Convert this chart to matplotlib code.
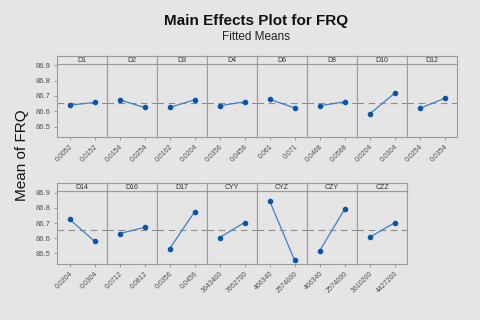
import matplotlib
matplotlib.use("Agg")
import matplotlib.pyplot as plt

# factor names, level labels and fitted means
top_factors = ["D1", "D2", "D3", "D4", "D6", "D8", "D10", "D12"]
top_levels = [["0.0052", "0.0152"], ["0.0154", "0.0254"], ["0.0102", "0.0204"],
              ["0.0356", "0.0456"], ["0.061", "0.071"], ["0.0468", "0.0568"],
              ["0.0204", "0.0304"], ["0.0254", "0.0354"]]
top_means = [[86.640, 86.658], [86.675, 86.625], [86.625, 86.675], [86.636, 86.662],
             [86.678, 86.623], [86.636, 86.662], [86.582, 86.717], [86.619, 86.684]]

bottom_factors = ["D14", "D16", "D17", "CYY", "CYZ", "CZY", "CZZ"]
bottom_levels = [["0.0204", "0.0304"], ["0.0712", "0.0812"], ["0.0356", "0.0456"],
                 ["3643400", "7652700"], ["466340", "2574000"], ["466340", "2574000"],
                 ["3610200", "4427200"]]
bottom_means = [[86.725, 86.580], [86.630, 86.671], [86.530, 86.773], [86.604, 86.703],
                [86.848, 86.456], [86.515, 86.790], [86.606, 86.701]]

overall_mean = 86.655
yticks = [86.5, 86.6, 86.7, 86.8, 86.9]

BG = "#e5e5e5"
EDGE = "#9a9a9a"
LINE = "#3f7fc4"
DOT = "#0a55a8"
TXT = "#505050"

plt.rcParams['font.family'] = ['Liberation Sans', 'DejaVu Sans']

fig = plt.figure(figsize=(4.8, 3.2), dpi=100, facecolor=BG)

W, H = 480.0, 320.0
x0 = 57.0
pw = 50.0


def draw_row(factors, levels, means, top_px, bottom_px, ylim):
    for i, (name, lev, m) in enumerate(zip(factors, levels, means)):
        left = (x0 + i * pw) / W
        ax = fig.add_axes([left, 1 - bottom_px / H, pw / W, (bottom_px - top_px) / H])
        ax.set_facecolor(BG)
        ax.axhline(overall_mean, color="#8c8c8c", lw=0.8, ls=(0, (6, 4)), zorder=1)
        ax.plot([0, 1], m, color=LINE, lw=0.9, zorder=2)
        ax.plot([0, 1], m, "o", color=DOT, ms=3.0, zorder=3)
        ax.set_xlim(-0.5, 1.5)
        ax.set_ylim(*ylim)
        ax.set_xticks([0, 1])
        ax.set_xticklabels(lev, rotation=45, ha="right", rotation_mode="anchor",
                           fontsize=5, color=TXT)
        ax.set_yticks(yticks)
        if i == 0:
            ax.set_yticklabels(["%.1f" % v for v in yticks], fontsize=5.5, color=TXT)
        else:
            ax.tick_params(axis="y", left=False, labelleft=False)
        ax.tick_params(axis="both", colors=EDGE, length=2.5, width=0.7, pad=2,
                       labelcolor=TXT)
        for s in ax.spines.values():
            s.set_color(EDGE)
            s.set_linewidth(0.8)
        # strip with factor name
        sax = fig.add_axes([left, 1 - top_px / H, pw / W, 8.5 / H])
        sax.set_facecolor(BG)
        sax.set_xticks([])
        sax.set_yticks([])
        for s in sax.spines.values():
            s.set_color(EDGE)
            s.set_linewidth(0.8)
        sax.text(0.5, 0.45, name, ha="center", va="center", fontsize=5, color="#303030",
                 transform=sax.transAxes)


draw_row(top_factors, top_levels, top_means, 64, 137, (86.433, 86.908))
draw_row(bottom_factors, bottom_levels, bottom_means, 191, 264, (86.43, 86.911))

fig.text(256 / W, 1 - 21 / H, "Main Effects Plot for FRQ", ha="center", va="center",
         fontsize=11, fontweight="bold", color="#111111")
fig.text(256 / W, 1 - 37 / H, "Fitted Means", ha="center", va="center",
         fontsize=8.5, color="#222222")
fig.text(22 / W, 1 - 155 / H, "Mean of FRQ", ha="center", va="center", rotation=90,
         fontsize=11, color="#111111")

fig.savefig("out.png", dpi=100, facecolor=BG)
